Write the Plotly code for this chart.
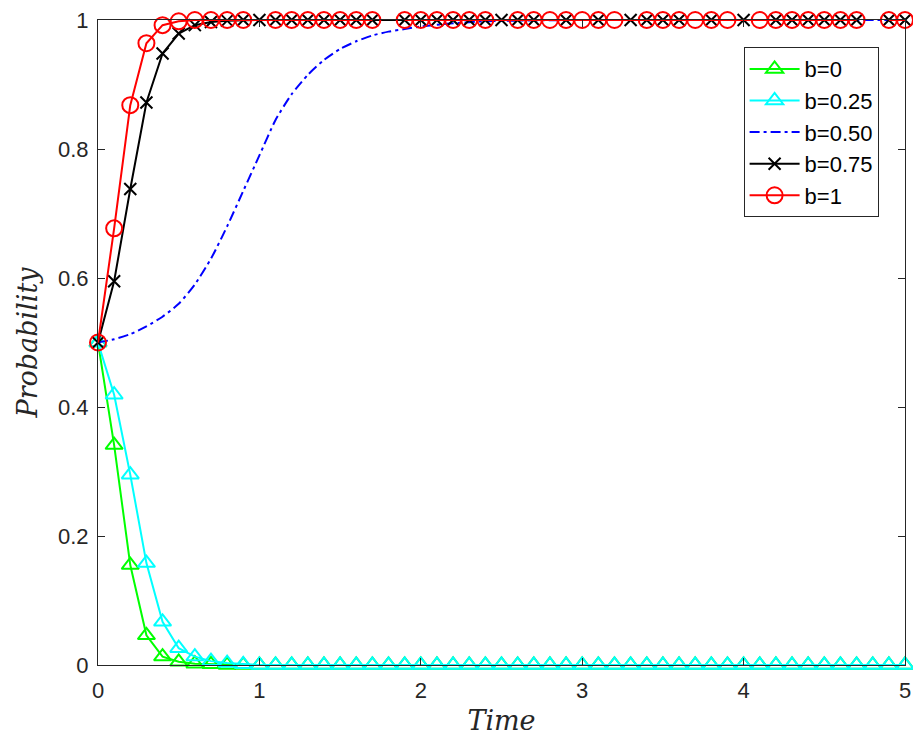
import plotly.graph_objects as go

# ---------------- data ----------------
t_grid = [0.0, 0.1, 0.2, 0.3, 0.4, 0.5, 0.6, 0.7, 0.8, 0.9,
          1.0, 1.1, 1.2, 1.3, 1.4, 1.5, 1.6, 1.7, 1.8, 1.9,
          2.0, 2.1, 2.2, 2.3, 2.4, 2.5, 2.6, 2.7, 2.8, 2.9,
          3.0, 3.1, 3.2, 3.3, 3.4, 3.5, 3.6, 3.7, 3.8, 3.9,
          4.0, 4.1, 4.2, 4.3, 4.4, 4.5, 4.6, 4.7, 4.8, 4.9, 5.0]

p_b0 = [0.5, 0.341, 0.155, 0.046, 0.013, 0.005, 0.002, 0.001, 0.0, 0.0,
        0.0, 0.0, 0.0, 0.0, 0.0, 0.0, 0.0, 0.0, 0.0, 0.0,
        0.0, 0.0, 0.0, 0.0, 0.0, 0.0, 0.0, 0.0, 0.0, 0.0,
        0.0, 0.0, 0.0, 0.0, 0.0, 0.0, 0.0, 0.0, 0.0, 0.0,
        0.0, 0.0, 0.0, 0.0, 0.0, 0.0, 0.0, 0.0, 0.0, 0.0, 0.0]

p_b025 = [0.5, 0.419, 0.295, 0.158, 0.067, 0.026, 0.013, 0.006, 0.003, 0.001,
          0.0, 0.0, 0.0, 0.0, 0.0, 0.0, 0.0, 0.0, 0.0, 0.0,
          0.0, 0.0, 0.0, 0.0, 0.0, 0.0, 0.0, 0.0, 0.0, 0.0,
          0.0, 0.0, 0.0, 0.0, 0.0, 0.0, 0.0, 0.0, 0.0, 0.0,
          0.0, 0.0, 0.0, 0.0, 0.0, 0.0, 0.0, 0.0, 0.0, 0.0, 0.0]

t_b050 = [0.0, 0.1, 0.2, 0.3, 0.4, 0.5, 0.6, 0.7, 0.8, 0.9,
          1.0, 1.1, 1.2, 1.3, 1.4, 1.5, 1.6, 1.7, 1.8, 1.9,
          2.0, 2.2, 2.4, 2.6, 3.0, 4.0, 5.0]
p_b050 = [0.5, 0.505, 0.513, 0.525, 0.54, 0.56, 0.59, 0.63, 0.68, 0.735,
          0.79, 0.845, 0.885, 0.915, 0.938, 0.955, 0.967, 0.976, 0.982, 0.986,
          0.99, 0.995, 0.998, 0.999, 1.0, 1.0, 1.0]

t_b075 = [0.0, 0.1, 0.2, 0.3, 0.4, 0.5, 0.6, 0.7, 0.8, 0.9,
          1.0, 1.1, 1.2, 1.3, 1.4, 1.5, 1.6, 1.7, 1.9,
          2.0, 2.1, 2.2, 2.3, 2.4, 2.5, 2.6, 2.7, 2.9,
          3.1, 3.3, 3.4, 3.5, 3.6, 3.8,
          4.0, 4.2, 4.3, 4.4, 4.5, 4.6, 4.7, 4.8, 4.9, 5.0]
p_b075 = [0.5, 0.595, 0.738, 0.872, 0.948, 0.979, 0.992, 0.997, 0.999, 1.0,
          1.0, 1.0, 1.0, 1.0, 1.0, 1.0, 1.0, 1.0, 1.0,
          1.0, 1.0, 1.0, 1.0, 1.0, 1.0, 1.0, 1.0, 1.0,
          1.0, 1.0, 1.0, 1.0, 1.0, 1.0,
          1.0, 1.0, 1.0, 1.0, 1.0, 1.0, 1.0, None, 1.0, 1.0]

t_b1 = [0.0, 0.1, 0.2, 0.3, 0.4, 0.5, 0.6, 0.7, 0.8, 0.9,
        1.1, 1.2, 1.3, 1.4, 1.5, 1.6, 1.7, 1.8, 1.9,
        2.0, 2.1, 2.2, 2.3, 2.4, 2.6, 2.7, 2.8, 2.9,
        3.0, 3.1, 3.2, 3.4, 3.5, 3.6, 3.7, 3.8, 3.9,
        4.1, 4.2, 4.3, 4.4, 4.5, 4.6, 4.7, 4.8, 4.9, 5.0]
p_b1 = [0.5, 0.677, 0.868, 0.964, 0.992, 0.998, 1.0, 1.0, 1.0, 1.0,
        1.0, 1.0, 1.0, 1.0, 1.0, 1.0, 1.0, None, 1.0,
        1.0, 1.0, 1.0, 1.0, 1.0, 1.0, 1.0, 1.0, 1.0,
        1.0, 1.0, 1.0, 1.0, 1.0, 1.0, 1.0, 1.0, 1.0,
        1.0, 1.0, 1.0, 1.0, 1.0, 1.0, 1.0, None, 1.0, 1.0]

x_ticks = [0, 1, 2, 3, 4, 5]
x_ticklabels = ["0", "1", "2", "3", "4", "5"]
y_ticks = [0, 0.2, 0.4, 0.6, 0.8, 1.0]
y_ticklabels = ["0", "0.2", "0.4", "0.6", "0.8", "1"]

# ---------------- figure ----------------
AX = "#262626"
SANS = "Liberation Sans, Arial, sans-serif"
SERIF = "DejaVu Serif, Liberation Serif, serif"
fig = go.Figure()

fig.add_trace(go.Scatter(
    x=t_grid, y=p_b0, name="b=0", mode="lines+markers", legendgroup="a",
    line=dict(color="#00ff00", width=2),
    marker=dict(symbol="triangle-up-open", size=15, color="#00ff00",
                line=dict(width=2, color="#00ff00")),
    cliponaxis=False))
fig.add_trace(go.Scatter(
    x=t_grid, y=p_b025, name="b=0.25", mode="lines+markers", legendgroup="b",
    line=dict(color="#00ffff", width=2),
    marker=dict(symbol="triangle-up-open", size=15, color="#00ffff",
                line=dict(width=2, color="#00ffff")),
    cliponaxis=False))
fig.add_trace(go.Scatter(
    x=t_b050, y=p_b050, name="b=0.50", mode="lines", legendgroup="c",
    line=dict(color="#0000ff", width=2, dash="10px,4px,3px,4px", shape="spline", smoothing=0.6),
    cliponaxis=False))
fig.add_trace(go.Scatter(
    x=t_b075, y=p_b075, name="b=0.75", mode="lines+markers", legendgroup="d",
    line=dict(color="#000000", width=2), connectgaps=False,
    marker=dict(symbol="x-thin-open", size=12, color="#000000",
                line=dict(width=2, color="#000000")),
    cliponaxis=False))
fig.add_trace(go.Scatter(
    x=t_b1, y=p_b1, name="b=1", mode="lines+markers", legendgroup="e",
    line=dict(color="#ff0000", width=2), connectgaps=False,
    marker=dict(symbol="circle-open", size=16, color="#ff0000",
                line=dict(width=2, color="#ff0000")),
    cliponaxis=False))

fig.update_layout(
    width=913, height=738,
    margin=dict(l=98, r=2, t=20, b=73),
    paper_bgcolor="white", plot_bgcolor="white",
    font=dict(family=SANS, size=22, color=AX),
    showlegend=True,
    legend=dict(
        x=0.80, y=0.958, xanchor="left", yanchor="top",
        bgcolor="white", bordercolor=AX, borderwidth=1,
        font=dict(family=SANS, size=22, color="#000000"),
        traceorder="grouped", tracegroupgap=0, itemwidth=50,
    ),
    xaxis=dict(
        range=[0, 5], tickvals=x_ticks, ticktext=x_ticklabels,
        showgrid=False, zeroline=False,
        showline=True, linecolor=AX, linewidth=1, mirror="ticks",
        ticks="inside", ticklen=7, tickcolor=AX, tickwidth=1,
        tickfont=dict(size=22, color=AX), ticklabelstandoff=6,
        ticklabeloverflow="allow",
        title=dict(text="Time", standoff=8,
                   font=dict(family=SERIF, size=27, color=AX, style="italic")),
    ),
    yaxis=dict(
        range=[0, 1], tickvals=y_ticks, ticktext=y_ticklabels,
        showgrid=False, zeroline=False,
        showline=True, linecolor=AX, linewidth=1, mirror="ticks",
        ticks="inside", ticklen=7, tickcolor=AX, tickwidth=1,
        tickfont=dict(size=22, color=AX), ticklabelstandoff=4,
        ticklabeloverflow="allow",
        title=dict(text="Probability", standoff=12,
                   font=dict(family=SERIF, size=27, color=AX, style="italic")),
    ),
)

fig.write_html("out.html")
